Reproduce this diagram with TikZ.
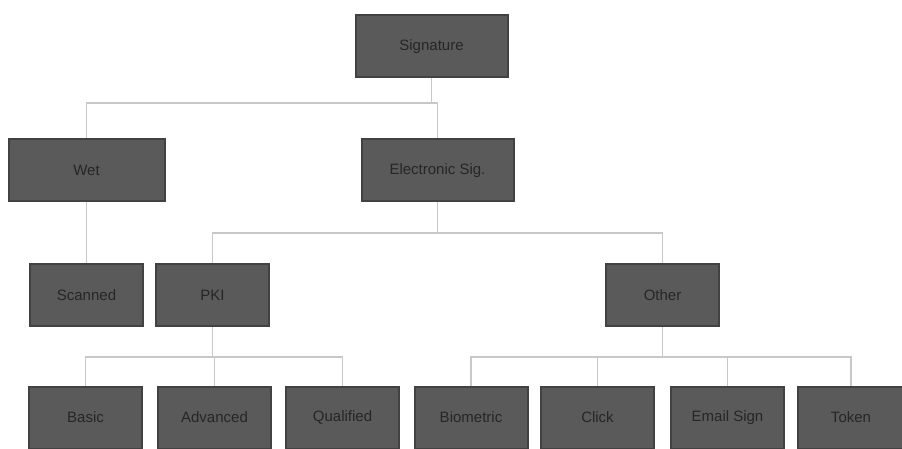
\documentclass[tikz,border=0pt]{standalone}
\usepackage{fontspec}
\setmainfont{Liberation Sans}
\definecolor{boxfill}{RGB}{90,90,90}
\definecolor{boxline}{RGB}{66,66,66}
\definecolor{boxtext}{RGB}{38,38,38}
\definecolor{wire}{RGB}{200,200,200}
\begin{document}
\begin{tikzpicture}[x=1pt,y=-1pt,
  box/.style={draw=boxline,line width=2pt,fill=boxfill,text=boxtext,
    minimum height=62pt,inner sep=2pt,font=\fontsize{15}{17}\selectfont},
  wide/.style={box,minimum width=152pt},
  narrow/.style={box,minimum width=113pt},
  link/.style={draw=wire,line width=1.6pt}]
\useasboundingbox (0,0) rectangle (902,449);

% tree levels
\node[wide]   (root)  at (431.5,46.5)  {Signature};
\node[wide,minimum width=156pt] (wet) at (86.5,170.5) {Wet};
\node[wide]   (elec)  at (437.5,170.5) {Electronic Sig.};
\node[narrow] (scan)  at (86.5,295)    {Scanned};
\node[narrow] (pki)   at (212.5,295)   {PKI};
\node[narrow] (other) at (662.5,295)   {Other};
\node[narrow] (basic) at (85.5,417.5)  {Basic};
\node[narrow] (adv)   at (214.5,417.5) {Advanced};
\node[narrow] (qual)  at (342.5,417.5) {Qualified};
\node[narrow] (bio)   at (471,417.5)   {Biometric};
\node[narrow] (click) at (597.5,417.5) {Click};
\node[narrow] (mail)  at (727.5,417.5) {Email Sign};
\node[narrow,minimum width=106pt] (token) at (851,417.5) {Token};

% connectors
\coordinate (j0) at (431.5,103);
\coordinate (j1) at (437.5,233);
\coordinate (j2) at (212.5,357);
\coordinate (j3) at (662.5,357);
\draw[link] (root.south) -- (j0);
\draw[link] (j0) -| (wet.north);
\draw[link] (j0) -| (elec.north);
\draw[link] (wet.south) -- (scan.north);
\draw[link] (elec.south) -- (j1);
\draw[link] (j1) -| (pki.north);
\draw[link] (j1) -| (other.north);
\draw[link] (pki.south) -- (j2);
\draw[link] (j2) -| (basic.north);
\draw[link] (j2) -| (adv.north);
\draw[link] (j2) -| (qual.north);
\draw[link] (other.south) -- (j3);
\draw[link] (j3) -| (bio.north);
\draw[link] (j3) -| (click.north);
\draw[link] (j3) -| (mail.north);
\draw[link] (j3) -| (token.north);
\end{tikzpicture}
\end{document}
